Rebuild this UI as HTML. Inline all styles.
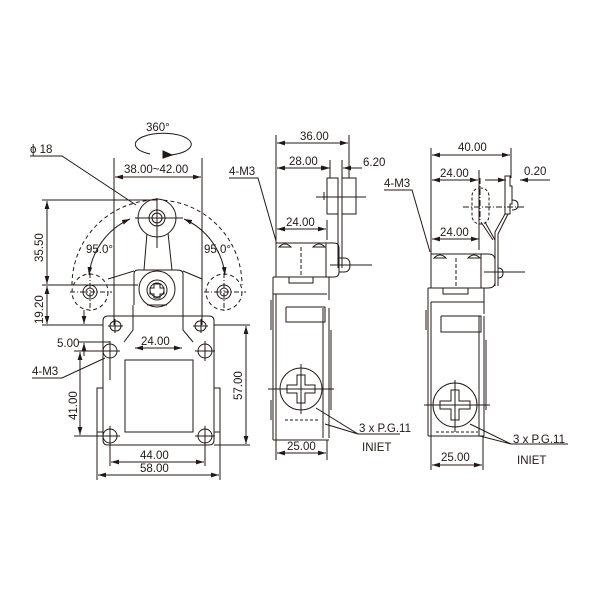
<!DOCTYPE html>
<html><head><meta charset="utf-8"><style>
html,body{margin:0;padding:0;background:#fff}
svg{display:block}
text{font-family:"Liberation Sans",Arial,sans-serif;font-size:11.5px;fill:#231815}
</style></head><body>
<svg width="600" height="600" viewBox="0 0 600 600" xmlns="http://www.w3.org/2000/svg">
<defs>
<marker id="a" viewBox="0 0 10 6" refX="10" refY="3" markerWidth="8" markerHeight="5" orient="auto-start-reverse"><path d="M0,0L10,3L0,6z" fill="#231815"/></marker>
</defs>
<g stroke="#231815" stroke-width="1" fill="none">
<!-- ===== FRONT VIEW ===== -->
<text x="146" y="131" stroke="none">360°</text>
<path d="M150,154 A28,11 0 1 1 170,155"/>
<path d="M163,151 l9,4 l-9,3z" fill="#231815"/>
<text x="30" y="153" stroke="none">ϕ 18</text>
<path d="M30,156 H62 L136,205"/>
<line x1="114" y1="158" x2="114" y2="325"/>
<line x1="202" y1="158" x2="202" y2="325"/>
<line x1="115" y1="177" x2="201" y2="177" marker-start="url(#a)" marker-end="url(#a)"/>
<text x="124" y="173" stroke="none">38.00~42.00</text>
<!-- dashed arc -->
<path d="M72,285 A85,85 0 0 1 242,285" stroke-dasharray="4,3"/>
<path d="M130,219 A70,70 0 0 0 89,275" marker-start="url(#a)" marker-end="url(#a)"/>
<path d="M184,219 A70,70 0 0 1 225,275" marker-start="url(#a)" marker-end="url(#a)"/>
<text x="86" y="253" stroke="none">95.0°</text>
<text x="204" y="253" stroke="none">95.0°</text>
<!-- side dashed circles -->
<circle cx="90" cy="292" r="18" stroke-dasharray="4,3"/>
<circle cx="90" cy="292" r="7"/><circle cx="90" cy="292" r="4"/>
<circle cx="224" cy="292" r="18" stroke-dasharray="4,3"/>
<circle cx="224" cy="292" r="7"/><circle cx="224" cy="292" r="4"/>
<path d="M70,292H112M90,273V312M204,292H246M224,273V312" stroke-dasharray="5,2,1,2"/>
<!-- roller and lever -->
<path d="M147,233 L144,270 M168,233 L172,270"/>
<circle cx="157" cy="218" r="19" fill="#fff"/>
<circle cx="157" cy="218" r="8"/><circle cx="157" cy="218" r="5"/>
<path d="M135,218H183M157,198V248"/>
<path d="M108,279 L134,271 M183,271 L202,279"/>
<path d="M134,305 V274 Q134,270 138,270 H177 Q183,270 183,274 V305"/>
<circle cx="157" cy="289" r="18" fill="#fff"/>
<circle cx="157" cy="290" r="10"/><circle cx="157" cy="290" r="7"/>
<path d="M154,284h6v4h4v6h-4v4h-6v-4h-4v-6h4z"/>
<path d="M147,305 H167"/>
<!-- left dims -->
<path d="M42,200H157 M42,285H138 M42,325H103 M78,342H110"/>
<line x1="47" y1="201" x2="47" y2="284" marker-start="url(#a)" marker-end="url(#a)"/>
<line x1="47" y1="286" x2="47" y2="324" marker-start="url(#a)" marker-end="url(#a)"/>
<text transform="translate(43,262) rotate(-90)" stroke="none">35.50</text>
<text transform="translate(43,324) rotate(-90)" stroke="none">19.20</text>
<line x1="84" y1="310" x2="84" y2="324" marker-end="url(#a)"/>
<line x1="84" y1="356" x2="84" y2="343" marker-end="url(#a)"/>
<text x="57" y="347" stroke="none">5.00</text>
<!-- plate -->
<path d="M108,316 H209 Q214,316 214,321 V440 Q214,445 209,445 H108 Q103,445 103,440 V321 Q103,316 108,316z"/>
<path d="M133,305 V330 L124,342 M183,305 V330 L193,342"/>
<rect x="125" y="360" width="68" height="72"/>
<rect x="97" y="388" width="6" height="44"/>
<rect x="214" y="388" width="6" height="44"/>
<g>
<rect x="110" y="321" width="11" height="10" rx="5"/><path d="M108,326H123M115,319V333"/>
<rect x="195" y="321" width="11" height="10" rx="5"/><path d="M193,326H208M201,319V333"/>
</g>
<g>
<circle cx="110" cy="351" r="7"/><path d="M106,351H114M110,347V355M100,351H120M110,341V380"/>
<circle cx="205" cy="351" r="7"/><path d="M201,351H209M205,347V355M195,351H215M205,341V361"/>
<circle cx="110" cy="436" r="7"/><path d="M106,436H114M110,432V440M100,436H120M110,426V446"/>
<circle cx="205" cy="436" r="7"/><path d="M201,436H209M205,432V440M195,436H215M205,426V446"/>
</g>
<line x1="135" y1="348" x2="182" y2="348" marker-start="url(#a)" marker-end="url(#a)"/>
<text x="141" y="345" stroke="none">24.00</text>
<path d="M74,351H103 M74,436H103"/>
<line x1="80" y1="352" x2="80" y2="435" marker-start="url(#a)" marker-end="url(#a)"/>
<text transform="translate(77,420) rotate(-90)" stroke="none">41.00</text>
<text x="32" y="375" stroke="none">4-M3</text>
<path d="M32,378H62 L105,358"/>
<path d="M214,325H250 M214,445H250"/>
<line x1="246" y1="326" x2="246" y2="444" marker-start="url(#a)" marker-end="url(#a)"/>
<text transform="translate(242,400) rotate(-90)" stroke="none">57.00</text>
<path d="M110,446V466 M205,446V466 M97,432V480 M220,432V480"/>
<line x1="111" y1="462" x2="204" y2="462" marker-start="url(#a)" marker-end="url(#a)"/>
<text x="140" y="459" stroke="none">44.00</text>
<line x1="98" y1="475" x2="219" y2="475" marker-start="url(#a)" marker-end="url(#a)"/>
<text x="140" y="472" stroke="none">58.00</text>

<!-- ===== SIDE VIEW 1 ===== -->
<path d="M276,135V243 M349,135V178 M330,160V178 M342,160V178 M327,220V240"/>
<line x1="277" y1="143" x2="348" y2="143" marker-start="url(#a)" marker-end="url(#a)"/>
<text x="300" y="140" stroke="none">36.00</text>
<line x1="277" y1="168" x2="329" y2="168" marker-start="url(#a)" marker-end="url(#a)"/>
<text x="289" y="165" stroke="none">28.00</text>
<line x1="320" y1="168" x2="330" y2="168" marker-end="url(#a)"/>
<line x1="362" y1="168" x2="343" y2="168" marker-end="url(#a)"/>
<text x="363" y="166" stroke="none">6.20</text>
<line x1="277" y1="229" x2="326" y2="229" marker-start="url(#a)" marker-end="url(#a)"/>
<text x="286" y="226" stroke="none">24.00</text>
<text x="229" y="175" stroke="none">4-M3</text>
<path d="M229,178H258 L276,241"/>
<!-- roller -->
<rect x="327" y="178" width="11" height="36"/>
<rect x="342" y="178" width="14" height="36"/>
<path d="M338,178V268 M342,214V268 M324,192V200 M356,192V200 M316,197H366"/>
<!-- block -->
<rect x="276" y="243" width="50" height="34"/>
<path d="M326,243H334 Q339,243 339,248V272 Q339,277 334,277H326"/>
<path d="M339,258 h5 q6,0 6,7 q0,7 -6,7 h-5 M330,265H372"/>
<path d="M279,247 q6,-6 12,0z M313,247 q6,-6 12,0z"/>
<path d="M301,247V277" stroke-dasharray="4,2"/>
<path d="M273,277H329 M273,277V440 M289,277V283H313V277 M329,277V300 M276,294H327 M273,294H276 M286,307H325V322H286V307 M323,308V438 M329,308V438 M276,294V440"/>
<path d="M271,300V330 M331,330V410 M271,400V420"/>
<path d="M273,440H329"/>
<path d="M285,420H318" stroke-dasharray="3,2"/>
<circle cx="301" cy="389" r="21"/>
<path d="M297,375h8v10h10v8h-10v10h-8v-10h-10v-8h10z"/>
<path d="M268,389H334 M301,364V414"/>
<path d="M276,440V460 M327,440V460"/>
<line x1="277" y1="453" x2="326" y2="453" marker-start="url(#a)" marker-end="url(#a)"/>
<text x="287" y="450" stroke="none">25.00</text>
<path d="M316,408 L358,434 H400 M325,424 L358,434"/>
<text x="359" y="432" stroke="none">3 x P.G.11</text>
<text x="362" y="451" stroke="none">INIET</text>

<!-- ===== SIDE VIEW 2 ===== -->
<path d="M431,148V254 M511,148V178 M479,170V250"/>
<line x1="432" y1="155" x2="510" y2="155" marker-start="url(#a)" marker-end="url(#a)"/>
<text x="458" y="151" stroke="none">40.00</text>
<line x1="432" y1="180" x2="478" y2="180" marker-start="url(#a)" marker-end="url(#a)"/>
<text x="440" y="177" stroke="none">24.00</text>
<line x1="485" y1="180" x2="506" y2="180" marker-end="url(#a)"/>
<line x1="550" y1="180" x2="520" y2="180" marker-end="url(#a)"/>
<text x="524" y="175" stroke="none">0.20</text>
<line x1="432" y1="239" x2="479" y2="239" marker-start="url(#a)" marker-end="url(#a)"/>
<text x="440" y="236" stroke="none">24.00</text>
<text x="384" y="187" stroke="none">4-M3</text>
<path d="M384,190H412 L430,252"/>
<!-- lever -->
<rect x="472" y="188" width="17" height="36" rx="8" stroke-dasharray="3,2"/>
<path d="M463,207H525 M480,178V222" stroke-dasharray="6,2,1,2"/>
<path d="M505,176h5v10h2v18h-2v10h-5z"/>
<path d="M512,200 q6,0 6,5 q0,5 -6,5"/>
<path d="M505,214 L495,232 V286 M508,214 L498,234 V286 M485,222 L495,240 M481,222 L493,240"/>
<rect x="431" y="254" width="50" height="34"/>
<path d="M481,254H488 Q495,254 495,260V282 Q495,288 488,288H481"/>
<path d="M498,268 q5,0 5,5 q0,5 -5,5 M484,272H525"/>
<path d="M434,258 q6,-6 12,0z M468,258 q6,-6 12,0z"/>
<path d="M456,258V288" stroke-dasharray="4,2"/>
<path d="M428,288H484 M428,288V436 M443,288V294H468V288 M484,288V314 M431,302V436 M431,302H484 M441,316H481V332H441V316 M479,316V436 M484,316V436"/>
<path d="M426,310V330 M486,340V410"/>
<path d="M428,436H484"/>
<path d="M436,432H478" stroke-dasharray="3,2"/>
<circle cx="455" cy="405" r="22"/>
<path d="M451,390h8v11h11v8h-11v11h-8v-11h-11v-8h11z"/>
<path d="M424,405H490 M455,380V432"/>
<path d="M431,436V470 M483,436V470"/>
<line x1="432" y1="465" x2="482" y2="465" marker-start="url(#a)" marker-end="url(#a)"/>
<text x="441" y="461" stroke="none">25.00</text>
<path d="M470,424 L511,444 H568 M480,436 L511,444"/>
<text x="513" y="443" stroke="none">3 x P.G.11</text>
<text x="517" y="464" stroke="none">INIET</text>
</g>
</svg>
</body></html>
